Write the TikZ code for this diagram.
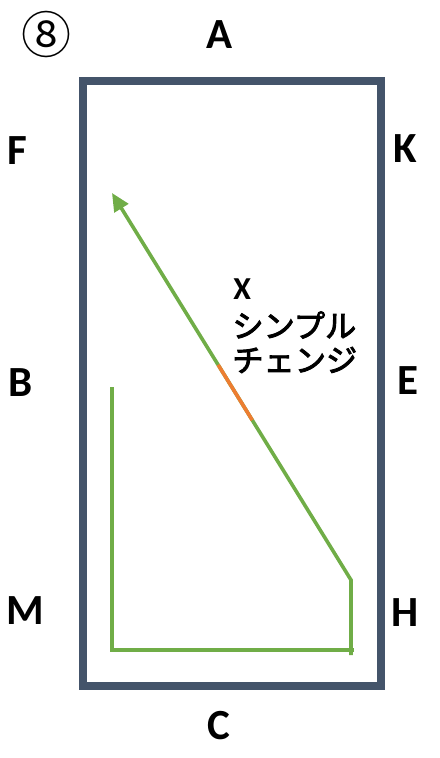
\documentclass[tikz,border=0pt]{standalone}
\usepackage{fontspec}
\usetikzlibrary{arrows.meta,calc}
\setmainfont{Carlito}
\newfontfamily\jpfont{Noto Sans CJK JP}
\newfontfamily\jpmedium{Noto Sans CJK JP}[FakeBold=3]
\definecolor{wallslate}{HTML}{44546A}
\definecolor{routegreen}{HTML}{70AD47}
\definecolor{routeorange}{HTML}{ED7D31}
\tikzset{
  court wall/.style={draw=wallslate, line width=4pt},
  route line/.style={draw=routegreen, line width=1.8pt},
  route change/.style={draw=routeorange, line width=1.8pt},
  side label/.style={font=\fontsize{21.5}{24}\selectfont\bfseries,
    inner sep=0pt},
  move label/.style={font=\jpmedium\fontsize{15.6}{18}\selectfont,
    inner sep=0pt, anchor=west},
}

\begin{document}
\begin{tikzpicture}[x=0.5pt, y=-0.5pt]
  \useasboundingbox (0,0) rectangle (439,758);

  % Court outline.
  \draw[court wall] (83,81) rectangle (381,686);

  % Pattern number.
  \node[font=\jpfont\fontsize{25}{28}\selectfont, inner sep=0pt] (num) at (46,35) {⑧};

  % Side letters round the court.
  \node[side label] (a) at (220,35) {A};
  \node[side label] (f) at (17,151) {F};
  \node[side label] (k) at (405,149) {K};
  \node[side label] (b) at (21,383) {B};
  \node[side label] (e) at (408,381) {E};
  \node[side label] (m) at (25,611) {M};
  \node[side label] (h) at (405,613) {H};
  \node[side label] (c) at (219,726) {C};

  % Route points.
  \coordinate (lefttop) at (112,387);
  \coordinate (leftbottom) at (112,650);
  \coordinate (rightbottom) at (354,650);
  \coordinate (rightfoot) at (351,655);
  \coordinate (turn) at (351,580);
  \coordinate (tip) at (112,193);

  \draw[route line] (lefttop) -- (leftbottom) -- (rightbottom);
  \draw[route line, -{Triangle[length=9pt, width=8pt]}]
    (rightfoot) -- (turn) -- (tip);
  % Change of leg on the diagonal.
  \draw[route change] ($(turn)!0.413!(tip)$) -- ($(turn)!0.556!(tip)$);

  % Movement text.
  \node[move label, font=\fontsize{16}{16}\selectfont\bfseries] (x) at (233,289) {X};
  \node[move label] (simple) at (232,325) {シンプル};
  \node[move label] (change) at (232,360) {チェンジ};
\end{tikzpicture}
\end{document}
